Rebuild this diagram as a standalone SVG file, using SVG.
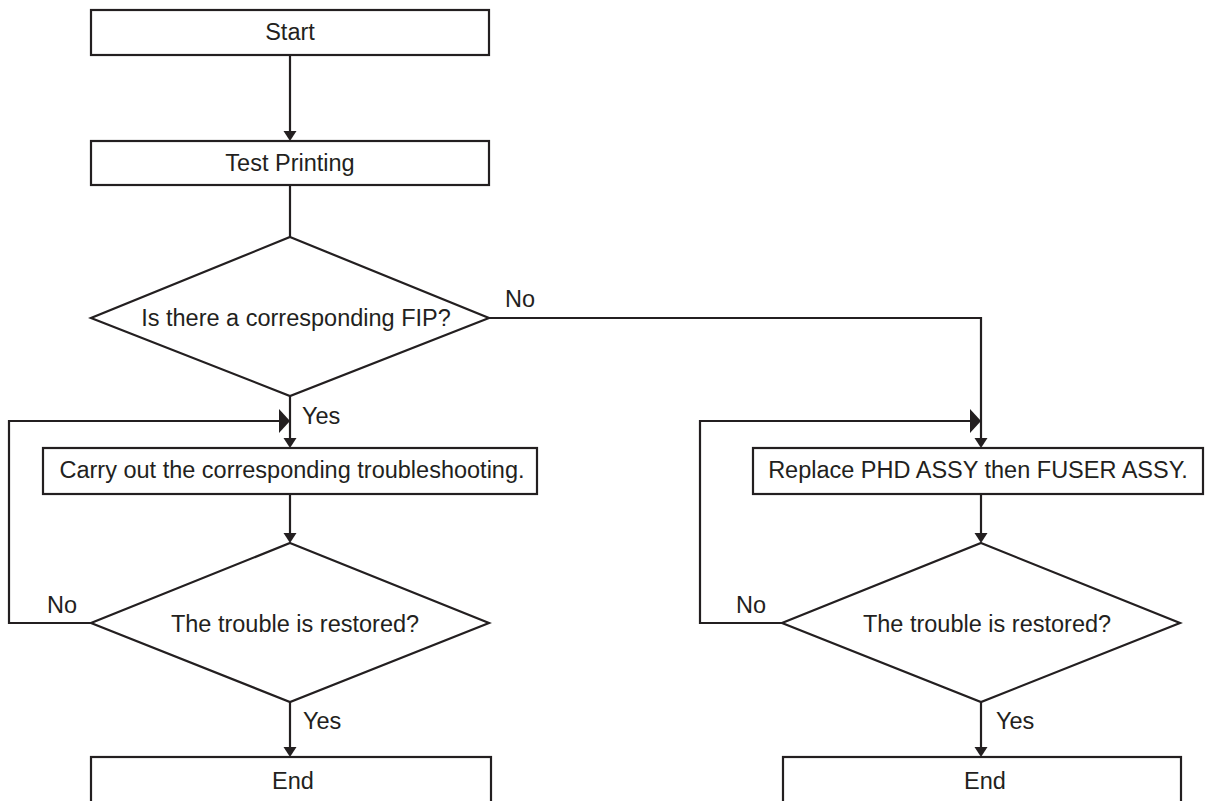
<svg xmlns="http://www.w3.org/2000/svg" width="1213" height="801" viewBox="0 0 1213 801">
<style>
.box{fill:#fff;stroke:#231f20;stroke-width:2.2}
.ln{fill:none;stroke:#231f20;stroke-width:2.2}
text{font-family:"Liberation Sans",Arial,sans-serif;font-size:23.5px;fill:#231f20}
.c{text-anchor:middle}
</style>
<defs>
<marker id="ad" markerUnits="userSpaceOnUse" markerWidth="14" markerHeight="14" refX="5" refY="6.5" orient="auto"><path d="M0,0 L10,6.5 L0,13 z" fill="#231f20"/></marker>
<marker id="ah" markerUnits="userSpaceOnUse" markerWidth="14" markerHeight="26" refX="5" refY="12" orient="auto"><path d="M0,0 L11,12 L0,24 z" fill="#231f20"/></marker>
</defs>
<rect width="1213" height="801" fill="#fff"/>
<g id="connectors">
<path class="ln" d="M290,55 V136" marker-end="url(#ad)"/>
<path class="ln" d="M290,185 V237"/>
<path class="ln" d="M290,396 V443" marker-end="url(#ad)"/>
<path class="ln" d="M290,494 V538" marker-end="url(#ad)"/>
<path class="ln" d="M290,702 V752" marker-end="url(#ad)"/>
<path class="ln" d="M489,318 H981 V443" marker-end="url(#ad)"/>
<path class="ln" d="M981,494 V538" marker-end="url(#ad)"/>
<path class="ln" d="M981,702 V752" marker-end="url(#ad)"/>
<path class="ln" d="M91,623 H9 V421 H284" marker-end="url(#ah)"/>
<path class="ln" d="M782,623 H700 V421 H975" marker-end="url(#ah)"/>
<text x="505" y="307">No</text>
<text x="302" y="424">Yes</text>
<text x="47" y="613">No</text>
<text x="303" y="729">Yes</text>
<text x="736" y="613">No</text>
<text x="996" y="729">Yes</text>
</g>
<g id="start"><rect class="box" x="91" y="10" width="398" height="45"/><text class="c" x="290" y="40">Start</text></g>
<g id="test"><rect class="box" x="91" y="141" width="398" height="44"/><text class="c" x="290" y="171">Test Printing</text></g>
<g id="fip"><polygon class="box" points="290,237 489,318 290,396 91,318"/><text class="c" x="296" y="326">Is there a corresponding FIP?</text></g>
<g id="carry"><rect class="box" x="43" y="448" width="494" height="46"/><text class="c" x="292" y="478">Carry out the corresponding troubleshooting.</text></g>
<g id="restored1"><polygon class="box" points="290,543 489,623 290,702 91,623"/><text class="c" x="295" y="632">The trouble is restored?</text></g>
<g id="end1"><rect class="box" x="91" y="757" width="400" height="60"/><text class="c" x="293" y="789">End</text></g>
<g id="replace"><rect class="box" x="753" y="448" width="450" height="46"/><text class="c" x="978" y="478">Replace PHD ASSY then FUSER ASSY.</text></g>
<g id="restored2"><polygon class="box" points="981,543 1180,623 981,702 782,623"/><text class="c" x="987" y="632">The trouble is restored?</text></g>
<g id="end2"><rect class="box" x="783" y="757" width="398" height="60"/><text class="c" x="985" y="789">End</text></g>
</svg>
